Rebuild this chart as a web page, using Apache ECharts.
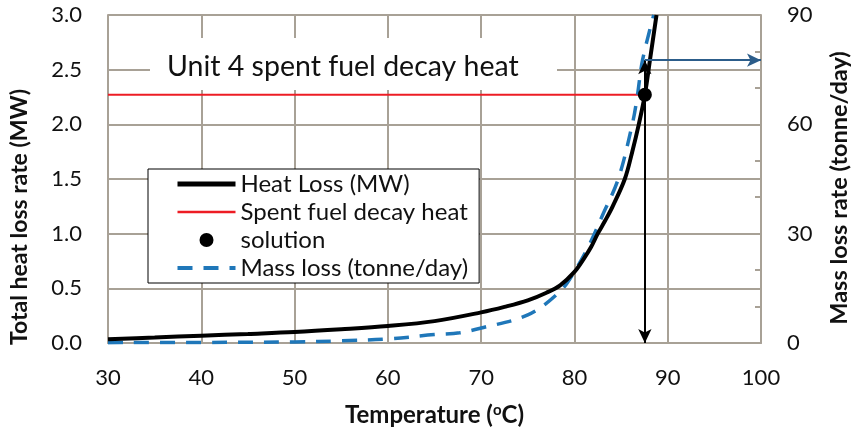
<!DOCTYPE html>
<html>
<head>
<meta charset="utf-8">
<script src="https://cdn.jsdelivr.net/npm/echarts@6/dist/echarts.min.js"></script>
<style>
  html, body { margin: 0; padding: 0; background: #ffffff; }
  #chart { width: 851px; height: 435px; }
</style>
</head>
<body>
<div id="chart"></div>
<script>
// heat loss curve (MW)
const temps = [30, 35, 40, 45, 50, 55, 60, 65, 70, 72.5, 75, 77, 78.5, 80, 81, 81.8, 82.5, 83.3, 84.1, 85.4, 86.2, 86.9, 87.55, 88.1, 88.8]
const heatLoss = [0.035, 0.05, 0.067, 0.083, 0.1, 0.125, 0.155, 0.2, 0.28, 0.33, 0.39, 0.46, 0.53, 0.65, 0.77, 0.88, 1.0, 1.12, 1.25, 1.5, 1.75, 2.0, 2.27, 2.59, 3.0]
// mass loss curve (tonne/day)
const massTemps = [30, 40, 50, 55, 60, 65, 67.7, 70, 75, 78.4, 80, 81.6, 83, 84.7, 86.2, 86.7, 87.3, 88.5]
const massLoss = [0.1, 0.15, 0.3, 0.6, 1.1, 2.3, 2.8, 4.1, 7.7, 14, 19.6, 27, 35, 45, 60, 67, 77.6, 90]
// spent fuel decay heat and solution point
const decayHeat = 2.27
const solutionT = 87.55
const solutionMass = 77.6
const titleText = 'Unit 4 spent fuel decay heat'
const seriesNames = ['Heat Loss (MW)', 'Spent fuel decay heat', 'solution', 'Mass loss (tonne/day)']

const gridColor = '#A8A196'
const font = 'Lato'
const dash = [15, 11]

let myChart = echarts.init(document.getElementById('chart'))
let option = {
  animation: false,
  textStyle: { fontFamily: font },
  grid: { left: 108, right: 90, top: 15, bottom: 92, containLabel: false, outerBoundsMode: 'none' },
  graphic: [
    {
      type: 'rect',
      z: 100,
      shape: { x: 150, y: 38, width: 407, height: 52 },
      style: { fill: '#ffffff' }
    },
    {
      type: 'text',
      z: 101,
      x: 167,
      y: 67,
      style: {
        text: titleText,
        fill: '#111111',
        font: '28.5px ' + font,
        verticalAlign: 'middle'
      }
    }
  ],
  legend: {
    orient: 'vertical',
    left: 148,
    top: 169,
    padding: [1, 11, 1, 27],
    itemGap: 0,
    itemWidth: 58,
    itemHeight: 14,
    backgroundColor: '#ffffff',
    borderColor: '#000000',
    borderWidth: 1,
    borderRadius: 0,
    textStyle: { fontFamily: font, fontSize: 24, color: '#111111', lineHeight: 28 },
    data: [
      { name: seriesNames[0], itemStyle: { opacity: 0 }, lineStyle: { width: 5 } },
      { name: seriesNames[1], itemStyle: { opacity: 0 }, lineStyle: { width: 2.5 } },
      { name: seriesNames[2], itemStyle: { opacity: 1, color: '#000000' } },
      { name: seriesNames[3], itemStyle: { opacity: 0 }, lineStyle: { width: 4, type: dash } }
    ]
  },
  xAxis: {
    type: 'value',
    min: 30,
    max: 100,
    interval: 10,
    name: 'Temperature ({sup|o}C)',
    nameLocation: 'middle',
    nameGap: 60,
    nameTextStyle: {
      fontFamily: font,
      fontSize: 24,
      fontWeight: 'bold',
      color: '#111111',
      rich: {
        sup: { fontFamily: font, fontSize: 15, fontWeight: 'bold', color: '#111111', verticalAlign: 'top', padding: [0, 0, 9, 0] }
      }
    },
    axisLine: { lineStyle: { color: gridColor, width: 2 } },
    axisTick: { show: false },
    axisLabel: { color: '#111111', fontSize: 22, margin: 24 },
    splitLine: { show: true, lineStyle: { color: gridColor, width: 2 } }
  },
  yAxis: [
    {
      type: 'value',
      min: 0,
      max: 3,
      interval: 0.5,
      name: 'Total heat loss rate (MW)',
      nameLocation: 'middle',
      nameGap: 77,
      nameRotate: 90,
      nameTextStyle: { fontFamily: font, fontSize: 23, fontWeight: 'bold', color: '#111111', padding: [0, 76, 0, 0] },
      axisLine: { show: true, lineStyle: { color: gridColor, width: 2 } },
      axisTick: { show: false },
      axisLabel: {
        color: '#111111',
        fontSize: 22,
        margin: 26,
        formatter: function (v) { return v.toFixed(1) }
      },
      splitLine: { show: true, lineStyle: { color: gridColor, width: 2 } }
    },
    {
      type: 'value',
      min: 0,
      max: 90,
      interval: 10,
      position: 'right',
      name: 'Mass loss rate (tonne/day)',
      nameLocation: 'middle',
      nameGap: 66,
      nameRotate: 90,
      nameTextStyle: { fontFamily: font, fontSize: 23.5, fontWeight: 'bold', color: '#111111', padding: [0, 18, 0, 0] },
      axisLine: { show: true, lineStyle: { color: gridColor, width: 2 } },
      axisTick: { show: true, inside: true, length: 6, lineStyle: { color: gridColor, width: 2 } },
      axisLabel: {
        color: '#111111',
        fontSize: 22,
        margin: 26,
        formatter: function (v) { return v % 30 === 0 ? String(v) : '' }
      },
      splitLine: { show: false }
    }
  ],
  series: [
    {
      name: seriesNames[0],
      type: 'line',
      yAxisIndex: 0,
      data: temps.map((t, i) => [t, heatLoss[i]]),
      smooth: 0.35,
      symbol: 'none',
      z: 4,
      itemStyle: { color: '#000000' },
      lineStyle: { color: '#000000', width: 4 },
      markLine: {
        silent: true,
        symbol: ['none', 'arrow'],
        symbolSize: [10, 14],
        label: { show: false },
        lineStyle: { color: '#000000', width: 2, type: 'solid' },
        data: [
          [{ coord: [solutionT, decayHeat] }, { coord: [solutionT, 0] }],
          [{ coord: [solutionT, decayHeat] }, { coord: [solutionT, solutionMass / 30] }]
        ]
      }
    },
    {
      name: seriesNames[1],
      type: 'line',
      yAxisIndex: 0,
      data: [[30, decayHeat], [solutionT, decayHeat]],
      symbol: 'none',
      z: 3,
      itemStyle: { color: '#ED1C24' },
      lineStyle: { color: '#ED1C24', width: 2 }
    },
    {
      name: seriesNames[2],
      type: 'scatter',
      yAxisIndex: 0,
      data: [[solutionT, decayHeat]],
      symbol: 'circle',
      symbolSize: 14,
      symbolKeepAspect: true,
      z: 6,
      itemStyle: { color: '#000000', opacity: 1 }
    },
    {
      name: seriesNames[3],
      type: 'line',
      yAxisIndex: 1,
      data: massTemps.map((t, i) => [t, massLoss[i]]),
      smooth: 0.35,
      symbol: 'none',
      z: 3,
      itemStyle: { color: '#1F77B9' },
      lineStyle: { color: '#1F77B9', width: 3.5, type: dash },
      markLine: {
        silent: true,
        symbol: ['none', 'arrow'],
        symbolSize: [10, 14],
        label: { show: false },
        lineStyle: { color: '#2C5D8A', width: 2, type: 'solid' },
        data: [
          [{ coord: [solutionT, solutionMass] }, { coord: [100, solutionMass] }]
        ]
      }
    }
  ]
}
myChart.setOption(option)
</script>
</body>
</html>
